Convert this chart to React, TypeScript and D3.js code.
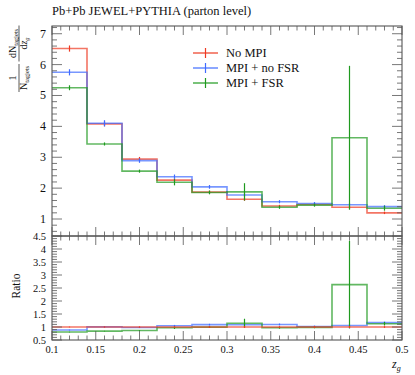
import React, { useEffect, useRef } from 'react';
import * as d3 from 'd3';

// bin edges in z_g
const binEdges = [0.1, 0.14, 0.18, 0.22, 0.26, 0.3, 0.34, 0.38, 0.42, 0.46, 0.5];

const seriesNames = ['No MPI', 'MPI + no FSR', 'MPI + FSR'];
const seriesColors = ['#ee3a22', '#3f6bff', '#1f9a1f'];

const noMPI = [6.52, 4.08, 2.94, 2.26, 1.87, 1.64, 1.42, 1.47, 1.38, 1.2];
const noMPIErr = [0.1, 0.08, 0.07, 0.05, 0.05, 0.05, 0.04, 0.05, 0.05, 0.04];
const mpiNoFSR = [5.75, 4.1, 2.89, 2.37, 2.04, 1.78, 1.56, 1.5, 1.46, 1.4];
const mpiNoFSRErr = [0.1, 0.1, 0.07, 0.07, 0.06, 0.05, 0.05, 0.05, 0.05, 0.05];
const mpiFSR = [5.25, 3.43, 2.55, 2.19, 1.86, 1.88, 1.38, 1.45, 3.63, 1.35];
const mpiFSRErr = [0.08, 0.05, 0.05, 0.1, 0.06, 0.28, 0.05, 0.05, 2.33, 0.08];

const xTicks = [0.1, 0.15, 0.2, 0.25, 0.3, 0.35, 0.4, 0.45, 0.5];
const mainYTicks = [1, 2, 3, 4, 5, 6, 7];
const ratioYTicks = [0.5, 1, 1.5, 2, 2.5, 3, 3.5, 4, 4.5];

const FONT = 'Liberation Serif';

export default function App() {
  const ref = useRef<SVGSVGElement | null>(null);

  useEffect(() => {
    const svg = d3.select(ref.current);
    svg.selectAll('*').remove();

    const left = 52, right = 402;
    const mainTop = 26, split = 236, ratioBottom = 340;

    const x = d3.scaleLinear().domain([0.1, 0.5]).range([left, right]);
    const y = d3.scaleLinear().domain([0.45, 7.25]).range([split, mainTop]);
    const yr = d3.scaleLinear().domain([0.5, 4.5]).range([ratioBottom, split]);

    const values = [noMPI, mpiNoFSR, mpiFSR];
    const errors = [noMPIErr, mpiNoFSRErr, mpiFSRErr];
    const ratios = values.map(v => v.map((d, i) => d / noMPI[i]));
    const ratioErrs = errors.map(e => e.map((d, i) => d / noMPI[i]));

    const step = (vals: number[], ys: d3.ScaleLinear<number, number>) => {
      const pts: [number, number][] = vals.map((v, i) => [binEdges[i], v]);
      pts.push([binEdges[binEdges.length - 1], vals[vals.length - 1]]);
      return d3.line<[number, number]>()
        .x(d => x(d[0]))
        .y(d => ys(d[1]))
        .curve(d3.curveStepAfter)(pts);
    };

    const drawSeries = (g: any, vals: number[], errs: number[], color: string, ys: any) => {
      g.append('path')
        .attr('d', step(vals, ys))
        .attr('fill', 'none')
        .attr('stroke', color)
        .attr('stroke-opacity', 0.7)
        .attr('stroke-width', 1.6);
      vals.forEach((v, i) => {
        const cx = x((binEdges[i] + binEdges[i + 1]) / 2);
        g.append('line')
          .attr('x1', cx).attr('x2', cx)
          .attr('y1', ys(v - errs[i])).attr('y2', ys(v + errs[i]))
          .attr('stroke', color)
          .attr('stroke-width', 1.2);
      });
    };

    // clip paths
    const defs = svg.append('defs');
    defs.append('clipPath').attr('id', 'clipMain')
      .append('rect').attr('x', left).attr('y', mainTop).attr('width', right - left).attr('height', split - mainTop);
    defs.append('clipPath').attr('id', 'clipRatio')
      .append('rect').attr('x', left).attr('y', split).attr('width', right - left).attr('height', ratioBottom - split);

    const mainG = svg.append('g').attr('clip-path', 'url(#clipMain)');
    values.forEach((v, k) => drawSeries(mainG, v, errors[k], seriesColors[k], y));

    const ratioG = svg.append('g').attr('clip-path', 'url(#clipRatio)');
    [1, 2, 0].forEach(k => drawSeries(ratioG, ratios[k], ratioErrs[k], seriesColors[k], yr));

    // frames and ticks
    const tickCol = '#555';
    const frame = svg.append('g').attr('stroke', tickCol).attr('fill', 'none');
    frame.append('rect').attr('x', left).attr('y', mainTop).attr('width', right - left).attr('height', split - mainTop).attr('stroke-width', 1.1);
    frame.append('rect').attr('x', left).attr('y', split).attr('width', right - left).attr('height', ratioBottom - split).attr('stroke-width', 1.1);

    const minorX = d3.range(0.1, 0.5001, 0.01);
    const isMajorX = (t: number) => Math.abs(t * 20 - Math.round(t * 20)) < 1e-6;
    const hTicks = (yy: number, dir: number) => {
      minorX.forEach(t => {
        const len = isMajorX(t) ? 9 : 4.5;
        frame.append('line')
          .attr('x1', x(t)).attr('x2', x(t))
          .attr('y1', yy).attr('y2', yy + dir * len)
          .attr('stroke-width', 0.8);
      });
    };
    hTicks(mainTop, 1);
    hTicks(split, -1);
    hTicks(split, 1);
    hTicks(ratioBottom, -1);

    const vTicks = (ys: any, lo: number, hi: number, minorStep: number, majors: number[]) => {
      const minors = d3.range(Math.ceil(lo / minorStep) * minorStep, hi + 1e-9, minorStep);
      minors.forEach(t => {
        const major = majors.some(m => Math.abs(m - t) < 1e-6);
        const len = major ? 10 : 5;
        [[left, 1], [right, -1]].forEach(([xx, dir]) => {
          frame.append('line')
            .attr('x1', xx).attr('x2', xx + dir * len)
            .attr('y1', ys(t)).attr('y2', ys(t))
            .attr('stroke-width', 0.8);
        });
      });
    };
    vTicks(y, 0.45, 7.25, 0.2, mainYTicks);
    vTicks(yr, 0.5, 4.5, 0.1, ratioYTicks);

    // tick labels
    const labels = svg.append('g').style('font-family', FONT).attr('fill', '#111');
    mainYTicks.forEach(t => {
      labels.append('text').attr('x', left - 6).attr('y', y(t) + 4)
        .attr('text-anchor', 'end').attr('font-size', 12).text(t);
    });
    ratioYTicks.forEach(t => {
      labels.append('text').attr('x', left - 6).attr('y', yr(t) + 3.5)
        .attr('text-anchor', 'end').attr('font-size', 10.5).text(t);
    });
    xTicks.forEach(t => {
      labels.append('text').attr('x', x(t)).attr('y', ratioBottom + 13)
        .attr('text-anchor', 'middle').attr('font-size', 10.5).text(t);
    });

    // title
    labels.append('text').attr('x', left).attr('y', 15).attr('font-size', 12.5)
      .text('Pb+Pb JEWEL+PYTHIA (parton level)');

    // x label
    const xl = labels.append('text').attr('x', right - 10).attr('y', 368).attr('font-size', 12);
    xl.append('tspan').attr('font-style', 'italic').text('z');
    xl.append('tspan').attr('font-style', 'italic').attr('font-size', 8).attr('dy', 3).text('g');

    // y labels
    const yl = labels.append('g').attr('transform', 'rotate(-90)');
    const frac = (cu: number, num: (t: any) => void, den: (t: any) => void, w: number) => {
      const tn = yl.append('text').attr('x', cu).attr('y', 16).attr('text-anchor', 'middle').attr('font-size', 10);
      num(tn);
      const td = yl.append('text').attr('x', cu).attr('y', 27).attr('text-anchor', 'middle').attr('font-size', 10);
      den(td);
      yl.append('line').attr('x1', cu - w / 2).attr('x2', cu + w / 2)
        .attr('y1', 19).attr('y2', 19).attr('stroke', '#111').attr('stroke-width', 0.7);
    };
    frac(-78, t => t.text('1'), t => {
      t.append('tspan').text('N');
      t.append('tspan').attr('font-size', 6.5).attr('dy', 2).text('tagjets');
    }, 28);
    frac(-43.5, t => {
      t.append('tspan').text('dN');
      t.append('tspan').attr('font-size', 6.5).attr('dy', 2).text('tagjets');
    }, t => {
      t.append('tspan').text('d');
      t.append('tspan').attr('font-style', 'italic').text('z');
      t.append('tspan').attr('font-style', 'italic').attr('font-size', 6.5).attr('dy', 2).text('g');
    }, 36);

    labels.append('text').attr('transform', 'translate(20,286) rotate(-90)')
      .attr('text-anchor', 'middle').attr('font-size', 11.5).text('Ratio');

    // legend
    const legend = svg.append('g').style('font-family', FONT);
    seriesNames.forEach((name, k) => {
      const ly = 53 + k * 15;
      legend.append('line').attr('x1', 193).attr('x2', 218).attr('y1', ly).attr('y2', ly)
        .attr('stroke', seriesColors[k]).attr('stroke-opacity', 0.75).attr('stroke-width', 1.6);
      legend.append('line').attr('x1', 205.5).attr('x2', 205.5).attr('y1', ly - 5).attr('y2', ly + 5)
        .attr('stroke', seriesColors[k]).attr('stroke-width', 1.2);
      legend.append('text').attr('x', 226).attr('y', ly + 4).attr('font-size', 12.5)
        .attr('fill', '#111').text(name);
    });
  }, []);

  return (
    <svg ref={ref} width={415} height={375}
      style={{ position: 'absolute', left: 0, top: 0, background: '#fff' }} />
  );
}
